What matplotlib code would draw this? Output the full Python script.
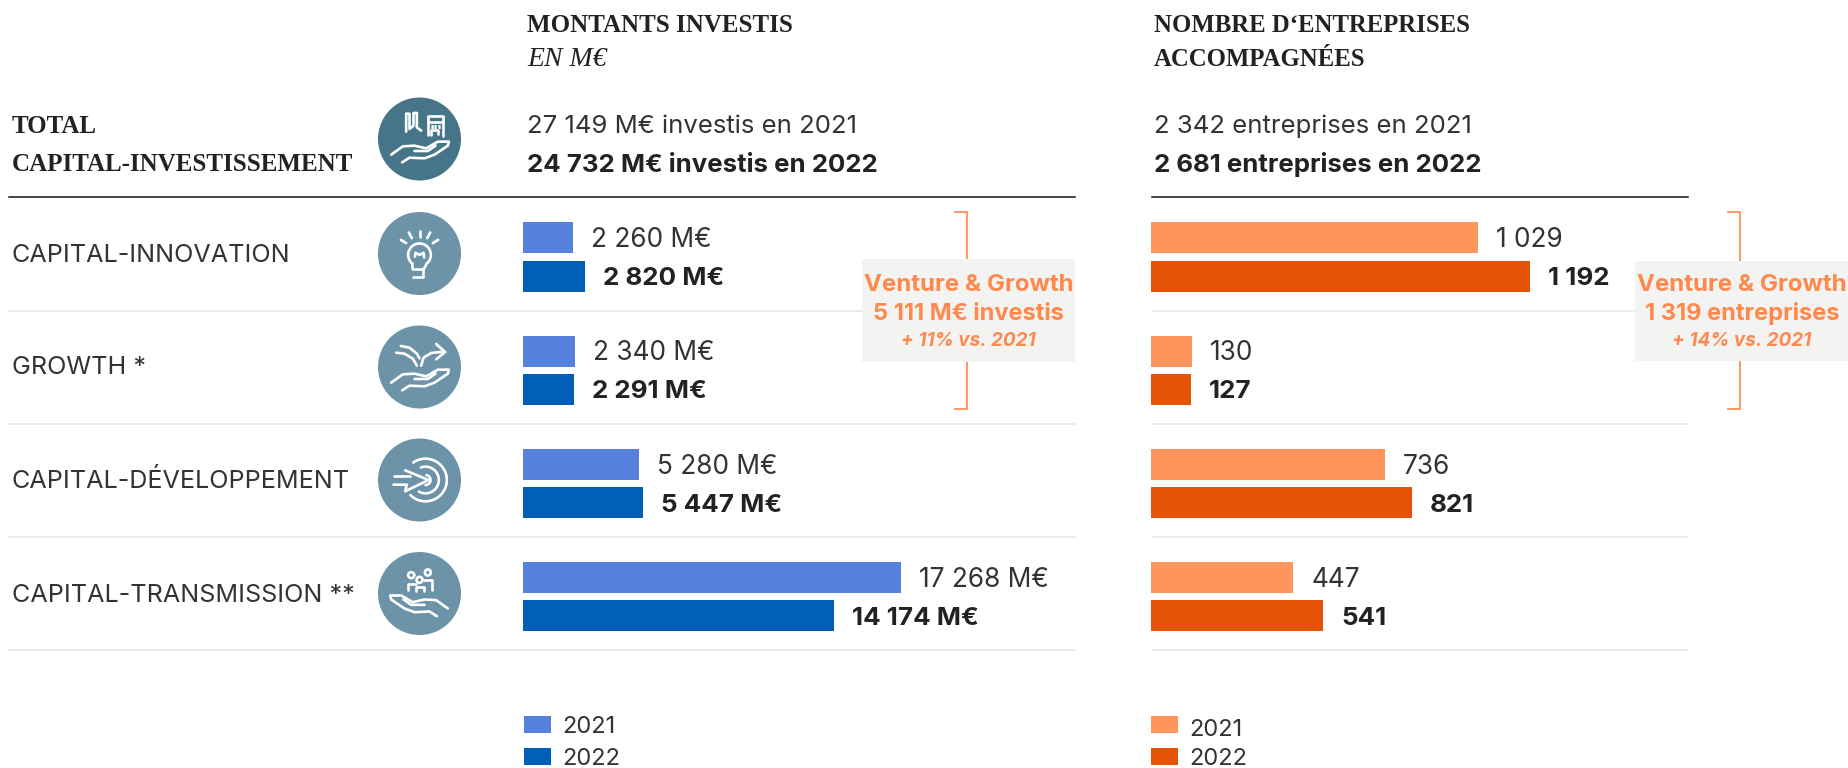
import numpy as np
import matplotlib
matplotlib.use("Agg")
import matplotlib.pyplot as plt
from matplotlib.patches import Rectangle, Circle

# data
categories = ["CAPITAL-INNOVATION", "GROWTH *", "CAPITAL-DÉVELOPPEMENT", "CAPITAL-TRANSMISSION **"]
invest_2021 = [2260, 2340, 5280, 17268]
invest_2022 = [2820, 2291, 5447, 14174]
firms_2021 = [1029, 130, 736, 447]
firms_2022 = [1192, 127, 821, 541]
years = ["2021", "2022"]

BLUE_21, BLUE_22 = "#5581DC", "#025FB8"
ORANGE_21, ORANGE_22 = "#FD955C", "#E45306"
TEAL, TEAL_DARK = "#6C93A8", "#46758A"
INK = "#222222"
INK_LIGHT = "#333333"
ACCENT = "#FF884D"
SANS = "Inter"
SERIF = "Liberation Serif"

fig = plt.figure(figsize=(18.49, 7.68), dpi=100)

# overlay in pixel coordinates for the layout
bg = fig.add_axes([0, 0, 1, 1])
bg.set_xlim(0, 1849)
bg.set_ylim(768, 0)
bg.axis("off")


def txt(x, y, s, size=17.5, weight="normal", color=INK, family=SANS, ha="left", style="normal"):
    bg.text(x, y, s, fontsize=size, fontweight=weight, color=color, family=family,
            ha=ha, va="baseline", style=style, zorder=6)


def bar_axes(x0, x1, px_per_unit):
    # row units: 113.3 px per row, first row centred on y = 257
    ax = fig.add_axes([x0 / 1849, 1 - 650 / 768, (x1 - x0) / 1849, 450 / 768], zorder=3)
    ax.patch.set_alpha(0)
    ax.set_xlim(0, (x1 - x0) / px_per_unit)
    ax.set_ylim((650 - 257) / 113.3, (200 - 257) / 113.3)
    ax.axis("off")
    return ax


def bars(ax, v21, v22, c21, c22, suffix):
    ys = np.arange(len(v21))
    ax.barh(ys - 0.168, v21, height=0.274, color=c21)
    ax.barh(ys + 0.168, v22, height=0.274, color=c22)
    for y, a, b in zip(ys, v21, v22):
        la = f"{a:,}".replace(",", " ") + suffix
        lb = f"{b:,}".replace(",", " ") + suffix
        ax.annotate(la, (a, y - 0.168), xytext=(18, -9), textcoords="offset pixels",
                    fontsize=18.9, family=SANS, color=INK_LIGHT, va="baseline")
        ax.annotate(lb, (b, y + 0.168), xytext=(18, -9), textcoords="offset pixels",
                    fontsize=18.7, fontweight="bold", family=SANS, color=INK, va="baseline")


bars(bar_axes(523.5, 1075, 378 / 17268), invest_2021, invest_2022, BLUE_21, BLUE_22, " M€")
bars(bar_axes(1151, 1688, 327 / 1029), firms_2021, firms_2022, ORANGE_21, ORANGE_22, "")

# headers
txt(527, 32, "MONTANTS INVESTIS", size=18, weight="bold", family=SERIF)
txt(527, 66, "EN M€", size=20, family=SERIF, style="italic")
txt(1154, 32, "NOMBRE D‘ENTREPRISES", size=17.8, weight="bold", family=SERIF)
txt(1154, 66, "ACCOMPAGNÉES", size=17.8, weight="bold", family=SERIF)
txt(11.5, 133, "TOTAL", size=18, weight="bold", family=SERIF)
txt(11.5, 171, "CAPITAL-INVESTISSEMENT", size=18, weight="bold", family=SERIF)
txt(527, 133, "27 149 M€ investis en 2021", size=18.5, color=INK_LIGHT)
txt(527, 172, "24 732 M€ investis en 2022", size=18.6, weight="bold")
txt(1154, 133, "2 342 entreprises en 2021", size=18.5, color=INK_LIGHT)
txt(1154, 172, "2 681 entreprises en 2022", size=18.6, weight="bold")

# row labels and rules
for name, base in zip(categories, [262, 374, 488, 602]):
    txt(11.5, base, name, size=18.1, color=INK_LIGHT)
for x0, x1 in [(9, 1075), (1152, 1688)]:
    bg.plot([x0, x1], [197, 197], color="#111111", lw=1.1, zorder=1)
    for y in [311, 424, 537, 650]:
        bg.plot([x0, x1], [y, y], color="#E6E6E6", lw=1.1, zorder=1)

# venture & growth brackets and boxes
for xa, xb, box0, box1, by0, by1, cx, line2, line3 in [
    (955, 966.5, 862, 1075, 259, 362, 968.5, "5 111 M€ investis", "+ 11% vs. 2021"),
    (1728, 1739.5, 1635, 1849, 261, 361, 1742, "1 319 entreprises", "+ 14% vs. 2021"),
]:
    bg.plot([xa, xb, xb, xa], [212, 212, 409, 409], color="#FF8F5A", lw=1.3, zorder=2)
    bg.add_patch(Rectangle((box0, by0), box1 - box0, by1 - by0, color="#F3F3F1", lw=0, zorder=4))
    txt(cx, 291, "Venture & Growth", size=17.3, weight="bold", color=ACCENT, ha="center")
    txt(cx, 320, line2, size=17, weight="bold", color=ACCENT, ha="center")
    txt(cx, 346, line3, size=13.6, weight="bold", color=ACCENT, ha="center", style="italic")

# legends
for x0, tx, by, colors in [(523.5, 562, [733, 765], (BLUE_21, BLUE_22)),
                           (1150.5, 1189, [736, 765], (ORANGE_21, ORANGE_22))]:
    for yr, sy, b, c in zip(years, [716, 748], by, colors):
        bg.add_patch(Rectangle((x0, sy), 27, 17, color=c, lw=0))
        txt(tx, b, yr, size=17, color=INK_LIGHT)


# icons: polylines in picture units around the circle centre, 3 units = 1 px
def line(cx, cy, pts, lw=1.9):
    p = np.array(pts, dtype=float) / 3
    bg.plot(cx + p[:, 0], cy + p[:, 1], color="white", lw=lw, zorder=5,
            solid_capstyle="round", solid_joinstyle="round")


def ring(cx, cy, x, y, r, a0=0, a1=360, lw=1.9):
    t = np.radians(np.linspace(a0, a1, 50))
    line(cx, cy, np.c_[x + r * np.cos(t), y + r * np.sin(t)], lw)


HAND = [(-85, 47), (-50, 22), (-15, 20), (20, 28), (55, 8), (88, 8), (85, 20), (45, 47),
        (15, 58), (-30, 56), (-52, 70)]
THUMB = [(-15, 36), (25, 36), (48, 20)]


def hand(cx, cy, dy=0, flip=1):
    for part in (HAND, THUMB):
        line(cx, cy, [(flip * x, y + dy) for x, y in part])


CX = 419.5
centres = [139, 253.5, 367, 480, 593.5]
for i, cy in enumerate(centres):
    bg.add_patch(Circle((CX, cy), 41.5, color=TEAL_DARK if i == 0 else TEAL, lw=0, zorder=4))

# top: factory and building over a hand
cy = centres[0]
hand(CX, cy)
line(CX, cy, [(-40, -22), (-40, -76), (-30, -76), (-30, -30), (-18, -40), (-18, -78), (-8, -78), (-8, -35), (5, -25)])
line(CX, cy, [(24, -12), (24, -68), (70, -68), (70, -8)])
line(CX, cy, [(24, -50), (70, -50)])
line(CX, cy, [(34, -12), (34, -26), (56, -26), (56, -14)])
for wx in (36, 47, 58):
    for wy in (-40, -32):
        line(CX, cy, [(wx, wy), (wx + 3, wy)], lw=1.4)

# bulb
cy = centres[1]
ring(CX, cy, 0, 4, 34, 130, 410)
line(CX, cy, [(-22, 30), (-20, 48), (12, 48), (12, 72), (-18, 72)])
line(CX, cy, [(22, 30), (12, 48)])
line(CX, cy, [(-14, 10), (-12, -2), (0, 4), (12, -2), (14, 12)])
for ray in [[(0, -69), (0, -51)], [(-32, -63), (-23, -46)], [(-56, -41), (-40, -31)],
            [(32, -63), (23, -46)], [(56, -41), (40, -31)]]:
    line(CX, cy, ray)

# growth arrows
cy = centres[2]
hand(CX, cy)
line(CX, cy, [(-70, -43), (-45, -40), (-20, -25), (-8, -4)])
line(CX, cy, [(-56, -63), (-30, -58), (-8, -40), (0, -26)])
line(CX, cy, [(5, -4), (12, -28), (35, -42), (72, -46)])
line(CX, cy, [(50, -69), (77, -45), (50, -23)])

# target
cy = centres[3]
for r, a0, a1 in [(64, -125, 135), (40, -110, 120), (15, -80, 90)]:
    ring(CX, cy, 18, 0, r, a0, a1)
line(CX, cy, [(-43, -29), (27, 0), (-43, 34), (-38, 14), (-78, 14)])
line(CX, cy, [(-78, -13), (-28, -13)])

# people over a hand
cy = centres[4]
hand(CX, cy, dy=-2, flip=-1)
ring(CX, cy, -25, -55, 9)
ring(CX, cy, 25, -63, 9)
ring(CX, cy, 0, -41, 9)
line(CX, cy, [(-36, -12), (-36, -30), (-12, -30)])
line(CX, cy, [(36, -12), (36, -40), (14, -40)])
line(CX, cy, [(-12, -8), (-12, -20), (12, -20), (12, -8)])

fig.savefig("out.png", dpi=100)
